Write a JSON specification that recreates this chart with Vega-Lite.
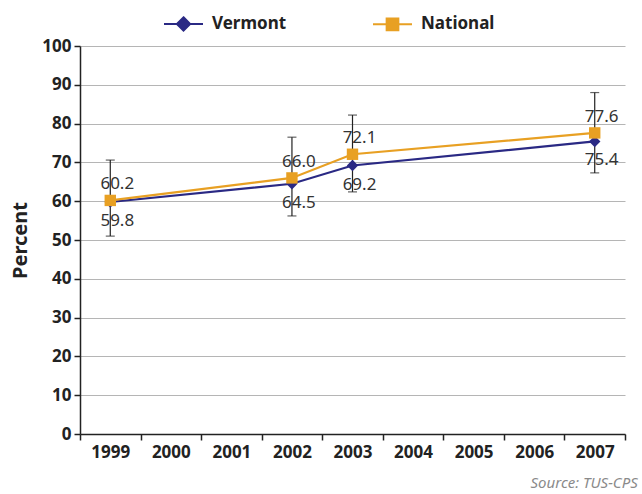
{
  "$schema": "https://vega.github.io/schema/vega-lite/v6.json",
  "width": 545,
  "height": 388,
  "autosize": {"type": "none"},
  "padding": {"left": 80, "top": 46, "right": 17, "bottom": 60},
  "background": "white",
  "config": {
    "font": "Noto Sans",
    "view": {"stroke": null},
    "axisY": {"tickCount": 10}
  },
  "title": {
    "text": "Source: TUS-CPS",
    "orient": "bottom",
    "anchor": "end",
    "fontStyle": "italic",
    "fontWeight": "normal",
    "fontSize": 15,
    "color": "#8a8a8a",
    "dx": 12,
    "offset": 16
  },
  "datasets": {
    "rates": [
      {"year": "1999", "series": "Vermont", "value": 59.8},
      {"year": "2002", "series": "Vermont", "value": 64.5},
      {"year": "2003", "series": "Vermont", "value": 69.2},
      {"year": "2007", "series": "Vermont", "value": 75.4},
      {"year": "1999", "series": "National", "value": 60.2},
      {"year": "2002", "series": "National", "value": 66.0},
      {"year": "2003", "series": "National", "value": 72.1},
      {"year": "2007", "series": "National", "value": 77.6}
    ],
    "errors": [
      {"year": "1999", "lo": 51.0, "hi": 70.6},
      {"year": "2002", "lo": 56.2, "hi": 76.5},
      {"year": "2003", "lo": 62.4, "hi": 82.2},
      {"year": "2007", "lo": 67.3, "hi": 88.0}
    ]
  },
  "encoding": {
    "x": {
      "field": "year",
      "type": "ordinal",
      "bandPosition": 0.5,
      "scale": {
        "type": "band",
        "domain": ["1999", "2000", "2001", "2002", "2003", "2004", "2005", "2006", "2007"],
        "paddingInner": 0,
        "paddingOuter": 0
      },
      "axis": {
        "title": null,
        "tickBand": "extent",
        "labelAngle": 0,
        "labelFontSize": 17,
        "labelFontWeight": "bold",
        "labelColor": "#222",
        "labelPadding": 4,
        "domainColor": "#222",
        "domainWidth": 1.5,
        "tickColor": "#222",
        "tickWidth": 1.5,
        "tickSize": 6,
        "grid": false
      }
    }
  },
  "layer": [
    {
      "data": {"name": "errors"},
      "mark": {"type": "rule", "color": "#222", "strokeWidth": 1.2},
      "encoding": {
        "y": {
          "field": "lo",
          "type": "quantitative",
          "scale": {"domain": [0, 100]},
          "axis": {
            "title": "Percent",
            "titleFontSize": 20,
            "titleFontWeight": "bold",
            "titleColor": "#222",
            "titlePadding": 11,
            "tickCount": 10,
            "labelFontSize": 17,
            "labelFontWeight": "bold",
            "labelColor": "#222",
            "labelPadding": 3,
            "labelOverlap": false,
            "domainColor": "#222",
            "domainWidth": 1.5,
            "tickColor": "#222",
            "tickWidth": 1.5,
            "tickSize": 6,
            "grid": true,
            "gridColor": "#b5b5b5",
            "gridWidth": 1.2
          }
        },
        "y2": {"field": "hi"}
      }
    },
    {
      "data": {"name": "errors"},
      "mark": {"type": "tick", "color": "#222", "thickness": 1.2, "size": 9},
      "encoding": {"y": {"field": "lo", "type": "quantitative"}}
    },
    {
      "data": {"name": "errors"},
      "mark": {"type": "tick", "color": "#222", "thickness": 1.2, "size": 9},
      "encoding": {"y": {"field": "hi", "type": "quantitative"}}
    },
    {
      "data": {"name": "rates"},
      "mark": {"type": "line", "strokeWidth": 2.2},
      "encoding": {
        "y": {"field": "value", "type": "quantitative"},
        "color": {
          "field": "series",
          "type": "nominal",
          "scale": {"domain": ["Vermont", "National"], "range": ["#2a2984", "#e8a023"]},
          "legend": {
            "orient": "none",
            "legendX": 83,
            "legendY": -43,
            "direction": "horizontal",
            "title": null,
            "labelFontSize": 17,
            "labelFontWeight": "bold",
            "labelColor": "#222",
            "labelOffset": 8,
            "symbolSize": 1521,
            "symbolStrokeWidth": 2,
            "columnPadding": 82,
            "encode": {
              "symbols": {
                "update": {
                  "shape": {"signal": "datum.value === 'Vermont' ? 'M-1,0H1M0,-0.34L0.34,0L0,0.34L-0.34,0Z' : 'M-1,0H1M-0.3,-0.3H0.3V0.3H-0.3Z'"},
                  "fill": {"signal": "scale('color', datum.value)"},
                  "stroke": {"signal": "scale('color', datum.value)"},
                  "opacity": {"value": 1}
                }
              }
            }
          }
        },
        "order": {"field": "series", "sort": "descending"}
      }
    },
    {
      "data": {"name": "rates"},
      "transform": [{"filter": "datum.series === 'Vermont'"}],
      "mark": {"type": "point", "shape": "diamond", "filled": true, "opacity": 1, "size": 130},
      "encoding": {
        "y": {"field": "value", "type": "quantitative"},
        "color": {"field": "series", "type": "nominal", "legend": null}
      }
    },
    {
      "data": {"name": "rates"},
      "transform": [{"filter": "datum.series === 'National'"}],
      "mark": {"type": "point", "shape": "square", "filled": true, "opacity": 1, "size": 130},
      "encoding": {
        "y": {"field": "value", "type": "quantitative"},
        "color": {"field": "series", "type": "nominal", "legend": null}
      }
    },
    {
      "data": {"name": "rates"},
      "transform": [{"filter": "datum.series === 'National'"}],
      "mark": {"type": "text", "dy": -16, "dx": 7, "fontSize": 17, "color": "#333"},
      "encoding": {
        "y": {"field": "value", "type": "quantitative"},
        "text": {"field": "value", "type": "quantitative", "format": ".1f"}
      }
    },
    {
      "data": {"name": "rates"},
      "transform": [{"filter": "datum.series === 'Vermont'"}],
      "mark": {"type": "text", "dy": 19, "dx": 7, "fontSize": 17, "color": "#333"},
      "encoding": {
        "y": {"field": "value", "type": "quantitative"},
        "text": {"field": "value", "type": "quantitative", "format": ".1f"}
      }
    }
  ]
}
